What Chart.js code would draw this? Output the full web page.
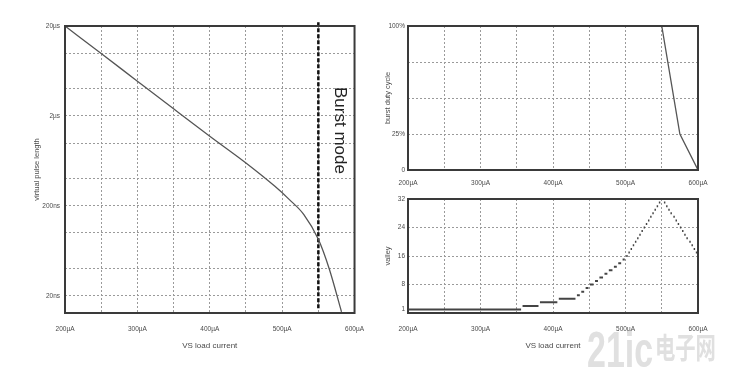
<!DOCTYPE html>
<html><head><meta charset="utf-8">
<script src="https://cdn.jsdelivr.net/npm/chart.js@4.4.0/dist/chart.umd.min.js"></script>
<style>
body{margin:0;background:#fff;width:740px;height:380px;overflow:hidden;position:relative;font-family:"Liberation Sans",Arial,sans-serif}
.c{position:absolute}
.wm{position:absolute;color:#e0e0e0;white-space:nowrap;pointer-events:none;transform-origin:0 0}
</style></head><body>
<div class="c" style="left:0;top:0;width:376px;height:380px"><canvas id="c1"></canvas></div>
<div class="c" style="left:370px;top:0;width:370px;height:190px"><canvas id="c2"></canvas></div>
<div class="c" style="left:370px;top:190px;width:370px;height:190px"><canvas id="c3"></canvas></div>
<div class="wm" style="left:587px;top:321px;font:bold 50px 'Liberation Sans',sans-serif;transform:scaleX(0.68)">21ic</div>
<div class="wm" style="left:655px;top:325px;font:bold 29px 'Noto Sans CJK SC',sans-serif;transform:scaleX(0.7)">电子网</div>
<script>
// ---- data ----
const currentTicks = [200,250,300,350,400,450,500,550,600];
const pulseCurrent = [200,250,300,350,400,450,490,510,530,550,565,582];
const pulseLengthNs = [20000,9900,4870,2400,1190,600,330,235,160,85,40,13.3];
const pulseTickValues = [20000,10000,4000,2000,1000,400,200,100,40,20];
const pulseTickLabels = {20000:'20µs',2000:'2µs',200:'200ns',20:'20ns'};
const burstModeCurrent = [550,550];
const burstModeLength = [22000,14];
const burstLabel = 'Burst mode';

const dutyCurrent = [550,575,600];
const dutyPercent = [100,25,0];
const dutyTickValues = [0,25,50,75,100];
const dutyTickLabels = ['0','25%','','','100%'];

const valleyLevel = [1,2,3,4,5,6,7,8,9,10,11,12,13,14,15,16,17,18,19,20,21,22,23,24,25,26,27,28,29,30,31,32,
                     31,30,29,28,27,26,25,24,23,22,21,20,19,18,17];
const valleyStart = [200,358,382,408,433,439,445,451,458,464,471,477,484,490,496,501,504,507,510,513,516,519,522,525,528,531,534,537,540,543,546,549,
                     553,556,559,562,566,569,572,575,578,581,584,588,591,594,597];
const valleyEnd   = [356,380,406,431,437,443,449,456,462,469,475,482,488,494,499,503,506,509,512,515,518,521,524,527,530,533,536,539,542,545,548,552,
                     555,558,561,564,568,571,574,577,580,583,586,590,593,596,600];
const valleyTickValues = [1,8,16,24,32];

// ---- helpers ----
const TXT = '#4a4a4a';
const tickFont = {family:"'Liberation Sans', Arial, sans-serif", size:6.5};
const titleFont = {family:"'Liberation Sans', Arial, sans-serif", size:8};
const frame = {id:'frame', afterDraw(chart){
  const {ctx, chartArea:a} = chart;
  ctx.save(); ctx.strokeStyle='#3a3a3a'; ctx.lineWidth=2;
  ctx.strokeRect(a.left,a.top,a.right-a.left,a.bottom-a.top); ctx.restore();
}};
function xAxis(height, pad, title){
  return {type:'linear', min:200, max:600,
    afterBuildTicks:s=>{s.ticks=currentTicks.map(v=>({value:v}));},
    afterFit:s=>{s.height=height;},
    ticks:{autoSkip:false, maxRotation:0, padding:pad, color:TXT, font:tickFont,
      callback:v=> v%100===0 ? v+'µA' : ''},
    grid:{color:'#9a9a9a', lineWidth:1, drawTicks:false},
    border:{display:false, dash:[2,2]},
    title: title ? {display:true, text:title, color:TXT, font:titleFont, padding:{top:0,bottom:29}} : {display:false}
  };
}
const base = {responsive:true, maintainAspectRatio:false, animation:false,
  plugins:{legend:{display:false}, tooltip:{enabled:false}}};

// ---- left chart ----
const burstText = {id:'burstText', afterDraw(chart){
  const {ctx} = chart; const x = chart.scales.x.getPixelForValue(550)+21;
  ctx.save(); ctx.translate(x, chart.chartArea.top+61); ctx.rotate(Math.PI/2);
  ctx.font = "17px 'Liberation Sans', Arial, sans-serif"; ctx.fillStyle='#222';
  ctx.textAlign='left'; ctx.textBaseline='middle'; ctx.fillText(burstLabel,0,0); ctx.restore();
}};
new Chart(document.getElementById('c1'), {
  type:'scatter',
  data:{datasets:[
    {data:pulseCurrent.map((x,i)=>({x, y:pulseLengthNs[i]})), showLine:true, borderColor:'#555', borderWidth:1.3,
     pointRadius:0, cubicInterpolationMode:'monotone'},
    {data:burstModeCurrent.map((x,i)=>({x, y:burstModeLength[i]})), showLine:true, borderColor:'#111', borderWidth:2.5,
     borderDash:[4,2], pointRadius:0, clip:false}
  ]},
  options:{...base,
    layout:{padding:{left:0, top:26, right:10, bottom:0}},
    scales:{
      x:xAxis(67, 12, 'VS load current'),
      y:{type:'logarithmic', min:12.9, max:20000,
        afterBuildTicks:s=>{s.ticks=pulseTickValues.map(v=>({value:v}));},
        afterFit:s=>{s.width=65;},
        ticks:{autoSkip:false, padding:5, color:TXT, font:tickFont, callback:v=>pulseTickLabels[v]||''},
        grid:{color:'#9a9a9a', lineWidth:1, drawTicks:false},
        border:{display:false, dash:[2,2]},
        title:{display:true, text:'virtual pulse length', color:TXT, font:{...titleFont,size:7.5}, padding:{top:32,bottom:0}}
      }
    }
  },
  plugins:[frame, burstText]
});

// ---- top right chart ----
new Chart(document.getElementById('c2'), {
  type:'scatter',
  data:{datasets:[
    {data:dutyCurrent.map((x,i)=>({x, y:dutyPercent[i]})), showLine:true, borderColor:'#555', borderWidth:1.3, pointRadius:0}
  ]},
  options:{...base,
    layout:{padding:{left:0, top:26, right:42, bottom:0}},
    scales:{
      x:xAxis(20, 9, null),
      y:{type:'linear', min:0, max:100,
        afterBuildTicks:s=>{s.ticks=dutyTickValues.map(v=>({value:v}));},
        afterFit:s=>{s.width=38;},
        ticks:{autoSkip:false, padding:3, color:TXT, font:tickFont, callback:(v)=>dutyTickLabels[dutyTickValues.indexOf(v)]},
        grid:{color:'#9a9a9a', lineWidth:1, drawTicks:false},
        border:{display:false, dash:[2,2]},
        title:{display:true, text:'burst duty cycle', color:TXT, font:{...titleFont,size:7.5}, padding:{top:13,bottom:0}}
      }
    }
  },
  plugins:[frame]
});

// ---- bottom right chart ----
const valleyPoints = [];
valleyLevel.forEach((v,i)=>{
  valleyPoints.push({x:valleyStart[i], y:v}, {x:valleyEnd[i], y:v}, {x:valleyEnd[i], y:null});
});
new Chart(document.getElementById('c3'), {
  type:'scatter',
  data:{datasets:[
    {data:valleyPoints, showLine:true, spanGaps:false, borderColor:'#444', borderWidth:2, pointRadius:0}
  ]},
  options:{...base,
    layout:{padding:{left:0, top:9, right:42, bottom:0}},
    scales:{
      x:xAxis(67, 12, 'VS load current'),
      y:{type:'linear', min:0, max:32,
        afterBuildTicks:s=>{s.ticks=valleyTickValues.map(v=>({value:v}));},
        afterFit:s=>{s.width=38;},
        ticks:{autoSkip:false, padding:3, color:TXT, font:tickFont},
        grid:{color:(c)=> c.tick && c.tick.value===1 ? 'rgba(0,0,0,0)' : '#9a9a9a', lineWidth:1, drawTicks:false},
        border:{display:false, dash:[2,2]},
        title:{display:true, text:'valley', color:TXT, font:{...titleFont,size:7.5}, padding:{top:13,bottom:0}}
      }
    }
  },
  plugins:[frame]
});
</script>
</body></html>
